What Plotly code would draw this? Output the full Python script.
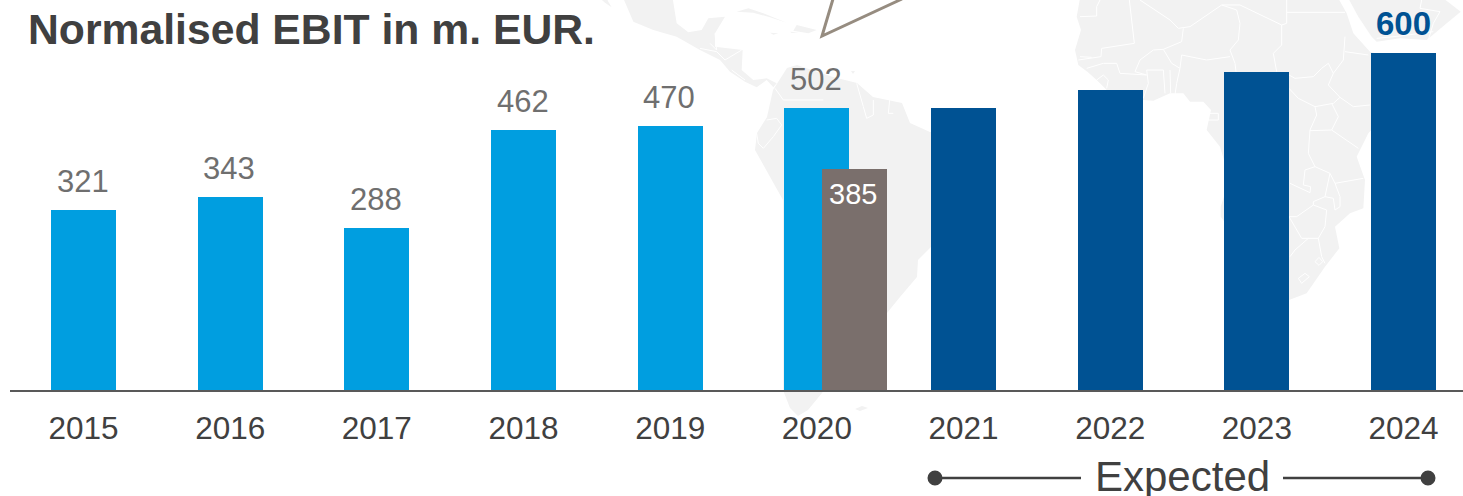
import plotly.graph_objects as go

W, H = 1463, 496

# ---- data ----
actual_years = [2015, 2016, 2017, 2018, 2019, 2020]
actual_values = [321, 343, 288, 462, 470, 502]
adjusted_years = [2020]
adjusted_bar = [393]
adjusted_labels = ["385"]
expected_years = [2021, 2022, 2023, 2024]
expected_values = [502, 534, 566, 600]
tick_years = actual_years + expected_years

TITLE = "Normalised EBIT in m. EUR."
FONT = "Liberation Sans"
BLUE, NAVY, TAUPE = "#009EE0", "#005293", "#7A6F6C"
LAND = "#F2F2F2"


# ---- decorative background map, in page pixels ----
def px(points, closed=True):
    d = "M" + " L".join(f"{x / W:.5f},{1 - y / H:.5f}" for x, y in points)
    return d + (" Z" if closed else "")


def zoomed(ox, pts):
    return [(ox + x / 3, y / 3) for x, y in pts]


land = [
    # Africa
    zoomed(1000, [(240, -5), (230, 50), (243, 90), (225, 150), (235, 195), (262, 215), (290, 240), (330, 280), (430, 300),
                  (460, 302), (510, 280), (550, 280), (570, 305), (610, 305), (633, 330), (620, 390), (660, 440),
                  (672, 480), (672, 590), (662, 620), (662, 650), (700, 700), (800, 900), (867, 900), (920, 880), (975, 800),
                  (1018, 745), (1005, 680), (1050, 640), (1090, 625), (1095, 540), (1070, 470), (1105, 400),
                  (1200, 300), (1200, 180), (1110, 155), (1060, 100), (1040, 40), (1015, -5)]),
    # Arabia
    zoomed(1000, [(1045, -5), (1075, 50), (1115, 110), (1130, 125), (1200, 115), (1280, 120), (1340, 70), (1382, 35), (1330, -5)]),
    # Mexico and Central America
    zoomed(620, [(10, -5), (40, 65), (100, 90), (170, 110), (240, 150), (300, 180), (330, 215), (375, 245), (410, 262),
                 (440, 240), (460, 262), (470, 250), (440, 235), (400, 240), (365, 210), (368, 150), (285, 140),
                 (285, 100), (315, 50), (265, 55), (245, 90), (205, 97), (170, 70), (158, -5)]),
    # Baja tip
    zoomed(600, [(0, -5), (15, 8), (35, 22), (25, 5), (20, -5)]),
    # Cuba, Hispaniola, Jamaica, Puerto Rico
    zoomed(620, [(350, 35), (385, 25), (430, 40), (500, 68), (450, 52), (400, 38)]),
    zoomed(620, [(530, 75), (590, 90), (565, 100), (520, 92)]),
    zoomed(620, [(450, 98), (475, 100), (460, 104)]),
    zoomed(620, [(510, 95), (535, 97), (515, 99)]),
    # South America
    [(773, 90), (787, 68), (797, 65), (833, 77), (857, 83), (873, 97), (902, 103), (910, 123), (930, 132), (990, 140),
     (990, 200), (931, 247), (918, 260), (917, 277), (900, 297), (887, 313), (860, 345), (830, 380), (822, 393),
     (808, 410), (798, 416), (790, 408), (783, 390), (783, 200), (755, 150), (757, 133), (767, 117)],
    # Falklands
    [(855, 409), (862, 406), (868, 408), (860, 411)],
    # Caribbean coast speck
    [(851, 71), (855, 71), (853, 74)],
]

borders = [zoomed(1000, b) for b in [
    [(420, 0), (510, 60), (535, 85), (570, 80), (665, 15), (720, 15), (845, 75), (845, 135), (820, 160), (830, 215)],
    [(845, 75), (860, 70), (860, 0)],
    [(860, 37), (1035, 37)],
    [(388, 0), (403, 130), (305, 145), (303, 170), (235, 180)],
    [(240, 50), (290, 48), (290, 20), (300, 0)],
    [(665, 15), (710, 30), (720, 70), (715, 120), (690, 150), (705, 190), (708, 215)],
    [(550, 85), (545, 125), (490, 148), (460, 150), (420, 180), (405, 215)],
    [(490, 148), (515, 190), (540, 205), (530, 250), (525, 285)],
    [(540, 205), (545, 165), (620, 180), (690, 170)],
    [(440, 210), (490, 210), (495, 280)],
    [(510, 210), (512, 280)],
    [(440, 210), (445, 250), (430, 295)],
    [(405, 215), (440, 225), (360, 220), (350, 190), (310, 190), (260, 205)],
    [(290, 240), (310, 225), (325, 240), (320, 265)],
    [(240, 170), (275, 172)],
    [(867, 265), (895, 295), (945, 320), (1000, 310), (1020, 292), (1060, 320), (1110, 315)],
    [(945, 320), (950, 345), (930, 390), (925, 460), (945, 500), (990, 520), (1005, 550), (1090, 535)],
    [(995, 310), (1015, 350), (995, 390), (1075, 445)],
    [(930, 392), (995, 390)],
    [(945, 500), (915, 510), (910, 555), (932, 560), (930, 578), (870, 550)],
    [(990, 520), (975, 590), (1000, 595), (1005, 630), (1020, 620), (1020, 590), (1005, 550)],
    [(975, 590), (940, 605), (940, 615), (890, 650), (867, 650)],
    [(940, 615), (980, 630), (975, 680), (955, 715), (905, 715), (867, 650)],
    [(955, 715), (965, 770), (975, 790)],
    [(925, 715), (885, 750), (870, 770)],
    [(1020, 292), (985, 255), (1000, 220), (985, 190), (965, 205), (940, 230), (885, 235), (867, 225)],
    [(1035, 110), (1030, 180), (1000, 220)],
    [(1035, 155), (1105, 165)],
    [(895, 835), (915, 820), (928, 830), (905, 850), (895, 835)],
    [(945, 785), (957, 772), (968, 785), (957, 796), (945, 785)],
    [(620, 340), (655, 340), (655, 360), (625, 360)],
    [(1265, 0), (1260, 25), (1320, 35), (1300, 70), (1285, 120)],
    [(1130, 115), (1200, 108), (1300, 95)],
]] + [zoomed(600, b) for b in [
    [(770, 250), (790, 320), (800, 355), (820, 345), (820, 300)],
    [(870, 290), (865, 340), (880, 340)],
    [(500, 360), (530, 355), (545, 375), (520, 410), (490, 445), (475, 430), (470, 400)],
    [(330, 130), (350, 150), (345, 100)],
    [(300, 145), (350, 155), (375, 180), (425, 150)],
    [(395, 210), (435, 240)],
    [(525, 265), (550, 300), (670, 300)],
]]

shapes = []
for poly in land:
    shapes.append(dict(type="path", xref="paper", yref="paper", layer="below", path=px(poly),
                       fillcolor=LAND, line=dict(width=0)))
for line in borders:
    shapes.append(dict(type="path", xref="paper", yref="paper", layer="below", path=px(line, closed=False),
                       line=dict(color="white", width=1)))

# callout pointer at the top
shapes.append(dict(type="path", xref="paper", yref="paper", path=px([(833, -1), (822, 36), (902, -1)], closed=False),
                   line=dict(color="#968C80", width=3)))

# "Expected" bracket
for x0, x1 in [(935, 1081), (1283, 1428)]:
    shapes.append(dict(type="line", xref="paper", yref="paper", x0=x0 / W, x1=x1 / W, y0=1 - 478 / H, y1=1 - 478 / H,
                       line=dict(color="#404040", width=2.5)))
for cx in (935, 1428):
    shapes.append(dict(type="circle", xref="paper", yref="paper", x0=(cx - 7.5) / W, x1=(cx + 7.5) / W,
                       y0=1 - 485.5 / H, y1=1 - 470.5 / H, fillcolor="#404040", line=dict(width=0)))

BAR_W = 65 / 146.67
fig = go.Figure()
fig.add_bar(x=actual_years, y=actual_values, width=BAR_W, marker=dict(color=BLUE, line=dict(width=0)))
fig.add_bar(x=expected_years, y=expected_values, width=BAR_W, marker=dict(color=NAVY, line=dict(width=0)))
fig.add_bar(x=adjusted_years, y=adjusted_bar, width=BAR_W, offset=-BAR_W / 2 + 0.259,
            marker=dict(color=TAUPE, line=dict(width=0)))

ann = []
for yr, val in zip(actual_years, actual_values):
    ann.append(dict(x=yr, y=val, text=str(val), showarrow=False, yanchor="bottom", yshift=9, xshift=-1,
                    font=dict(family=FONT, size=31, color="#6F6F6F")))
ann.append(dict(x=expected_years[-1], y=expected_values[-1], text=f"<b>{expected_values[-1]}</b>", showarrow=False,
                yanchor="bottom", yshift=9, font=dict(family=FONT, size=33, color=NAVY)))
ann.append(dict(x=adjusted_years[0] + 0.259, y=adjusted_bar[0], text=adjusted_labels[0], showarrow=False,
                yanchor="top", yshift=-7, xshift=-1.5, font=dict(family=FONT, size=29, color="white")))
ann.append(dict(xref="paper", yref="paper", x=28 / W, y=1 - 29 / H, text=f"<b>{TITLE}</b>", showarrow=False,
                xanchor="left", yanchor="middle", xshift=-2, font=dict(family=FONT, size=42.7, color="#404040")))
ann.append(dict(xref="paper", yref="paper", x=1182 / W, y=1 - 476 / H, text="Expected", showarrow=False,
                xanchor="center", yanchor="middle", font=dict(family=FONT, size=42, color="#404040")))

fig.update_layout(
    width=W, height=H, autosize=False, margin=dict(l=0, r=0, t=0, b=0), barmode="overlay", showlegend=False,
    paper_bgcolor="white", plot_bgcolor="rgba(0,0,0,0)", shapes=shapes, annotations=ann, bargap=0,
    xaxis=dict(domain=[10 / W, 1], range=[2015 - 73.5 / 146.67, 2015 + (W - 83.5) / 146.67], tickvals=tick_years,
               ticktext=[str(y) for y in tick_years], showgrid=False, zeroline=False, showline=True,
               linecolor="#595959", linewidth=2, ticks="", ticklabelstandoff=9,
               tickfont=dict(family=FONT, size=31.5, color="#404040")),
    yaxis=dict(domain=[(H - 390) / H, 1], range=[0, 390 / 0.5617], visible=False),
)
fig.write_html("out.html", config=dict(displayModeBar=False),
               post_script="document.body.style.margin='0';document.body.style.overflow='hidden';")
